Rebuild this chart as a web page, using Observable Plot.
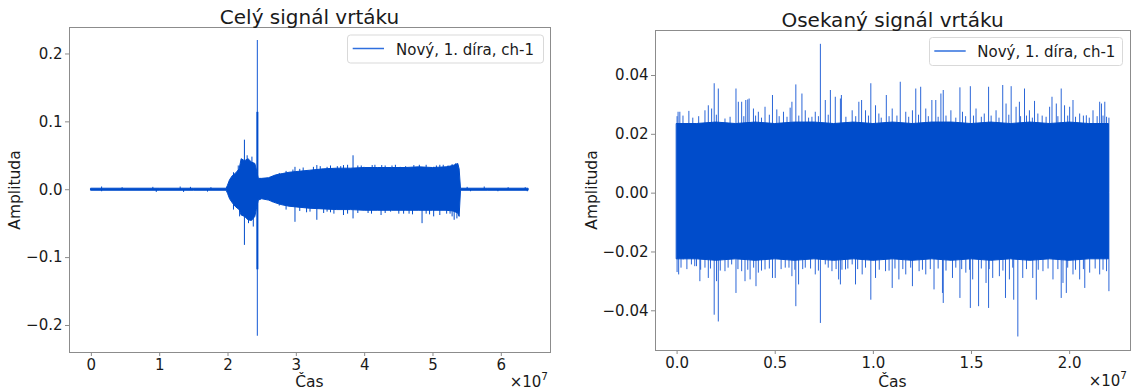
<!DOCTYPE html>
<html><head><meta charset="utf-8">
<script src="https://cdn.jsdelivr.net/npm/d3@7"></script>
<script src="https://cdn.jsdelivr.net/npm/@observablehq/plot@0.6"></script>
<style>
body{margin:0;background:#fff;}
#wrap{position:relative;width:1136px;height:390px;overflow:hidden;font-family:"DejaVu Sans",sans-serif;}
.pl{position:absolute;top:0;}
#ov{position:absolute;left:0;top:0;}
</style></head><body>
<div id="wrap"></div>
<script>
// ---------- data: left panel (whole signal) ----------
const leftT     = [0, 0.5e7, 1.0e7, 1.5e7, 1.98e7, 2.0e7, 2.03e7, 2.07e7, 2.12e7, 2.17e7, 2.2e7, 2.25e7, 2.3e7, 2.35e7, 2.4e7, 2.42e7, 2.45e7, 2.5e7, 2.6e7, 2.7e7, 2.8e7, 2.9e7, 3.0e7, 3.2e7, 3.4e7, 3.6e7, 3.8e7, 4.0e7, 4.2e7, 4.4e7, 4.6e7, 4.8e7, 5.0e7, 5.2e7, 5.3e7, 5.37e7, 5.39e7, 5.41e7, 5.8e7, 6.4e7];
const leftUpper = [0.0015, 0.0015, 0.0015, 0.0015, 0.0015, 0.006, 0.014, 0.02, 0.024, 0.03, 0.045, 0.042, 0.045, 0.04, 0.038, 0.03, 0.016, 0.016, 0.017, 0.021, 0.023, 0.025, 0.026, 0.028, 0.03, 0.031, 0.031, 0.032, 0.032, 0.032, 0.032, 0.033, 0.032, 0.033, 0.035, 0.038, 0.03, 0.0015, 0.0015, 0.0015];
const leftLower = [-0.0015, -0.0015, -0.0015, -0.0015, -0.0015, -0.006, -0.014, -0.02, -0.026, -0.03, -0.038, -0.04, -0.045, -0.046, -0.04, -0.03, -0.016, -0.014, -0.016, -0.02, -0.023, -0.025, -0.026, -0.028, -0.029, -0.03, -0.03, -0.031, -0.031, -0.031, -0.031, -0.031, -0.031, -0.031, -0.032, -0.035, -0.04, -0.0015, -0.0015, -0.0015];
const leftSpikeT = [0.15e7, 0.15e7, 0.45e7, 0.9e7, 0.95e7, 1.3e7, 1.35e7, 1.45e7, 1.7e7, 1.75e7, 5.5e7, 5.55e7, 5.75e7, 5.95e7, 6.1e7, 6.35e7, 6.38e7,
  2.08e7, 2.08e7, 2.15e7, 2.17e7, 2.24e7, 2.24e7, 2.28e7, 2.3e7, 2.35e7, 2.37e7,
  2.98e7, 3.30e7, 3.45e7, 3.69e7, 3.83e7, 3.99e7, 4.11e7, 4.25e7, 4.52e7, 4.72e7, 5.01e7, 5.33e7,
  2.98e7, 3.30e7, 3.45e7, 3.69e7, 3.83e7, 4.24e7, 4.38e7, 4.57e7, 4.84e7, 5.01e7, 5.2e7, 5.31e7,
  3.1e7, 3.6e7, 3.9e7, 4.4e7, 4.9e7, 5.15e7, 3.15e7, 3.55e7, 4.05e7, 4.65e7, 4.95e7, 5.25e7,
  2.65e7, 2.75e7, 2.85e7, 2.95e7, 3.05e7, 3.25e7, 3.35e7, 3.5e7, 3.65e7, 3.75e7, 3.95e7, 4.15e7, 4.3e7, 4.45e7, 4.6e7, 4.8e7, 5.05e7, 5.1e7, 5.22e7, 5.28e7,
  2.65e7, 2.75e7, 2.85e7, 3.05e7, 3.2e7, 3.4e7, 3.5e7, 3.75e7, 3.9e7, 4.1e7, 4.3e7, 4.5e7, 4.7e7, 4.9e7, 5.1e7, 5.28e7, 5.35e7];
const leftSpikeV = [0.004, -0.003, 0.003, 0.0035, -0.004, 0.004, -0.004, 0.0035, -0.0035, 0.003, 0.0035, -0.003, 0.004, -0.003, 0.003, 0.003, -0.003,
  0.025, -0.03, 0.035, -0.04, 0.073, -0.082, 0.05, -0.05, 0.048, -0.055,
  0.033, 0.0356, 0.033, 0.0356, 0.05, 0.033, 0.0356, 0.0356, 0.033, 0.0356, 0.033, 0.038,
  -0.048, -0.045, -0.033, -0.038, -0.043, -0.038, -0.033, -0.036, -0.05, -0.04, -0.036, -0.045,
  0.032, 0.034, 0.035, 0.035, 0.036, 0.036, -0.034, -0.036, -0.035, -0.036, -0.037, -0.036,
  0.019, 0.024, 0.027, 0.029, 0.03, 0.033, 0.034, 0.035, 0.034, 0.036, 0.035, 0.036, 0.035, 0.036, 0.034, 0.036, 0.035, 0.036, 0.035, 0.037,
  -0.019, -0.024, -0.03, -0.032, -0.033, -0.035, -0.034, -0.036, -0.035, -0.036, -0.035, -0.036, -0.037, -0.036, -0.038, -0.04, -0.043];
const peakT = [2.43e7];
const peakLowThin = [-0.216], peakHighThin = [0.22];
const peakLowDark = [-0.118], peakHighDark = [0.114];
const leftXTicks = [0, 1e7, 2e7, 3e7, 4e7, 5e7, 6e7];
const leftYTicks = [-0.2, -0.1, 0, 0.1, 0.2];

// ---------- data: right panel (trimmed signal) ----------
const rightT     = [0, 0.1e7, 0.2e7, 0.3e7, 0.4e7, 0.5e7, 0.6e7, 0.7e7, 0.8e7, 0.9e7, 1.0e7, 1.1e7, 1.2e7, 1.3e7, 1.4e7, 1.5e7, 1.6e7, 1.7e7, 1.8e7, 1.9e7, 2.0e7, 2.1e7, 2.2e7];
const rightUpper = [0.0235, 0.0235, 0.024, 0.0235, 0.024, 0.0235, 0.024, 0.024, 0.0235, 0.024, 0.0235, 0.024, 0.0235, 0.024, 0.024, 0.0235, 0.024, 0.0235, 0.024, 0.0235, 0.024, 0.0235, 0.0235];
const rightLower = [-0.0225, -0.0225, -0.023, -0.0225, -0.023, -0.0225, -0.023, -0.0225, -0.023, -0.0225, -0.023, -0.0225, -0.023, -0.0225, -0.023, -0.0225, -0.023, -0.0225, -0.023, -0.0225, -0.023, -0.0225, -0.0225];
const rightSpikeT = [
  0, 0, 2.2e7, 2.2e7,
  0.189e7, 0.21e7, 0.30e7, 0.35e7, 0.367e7, 0.486e7, 0.605e7, 0.636e7, 0.73e7, 0.781e7, 0.837e7, 0.94e7, 0.987e7, 1.066e7, 1.137e7, 1.216e7, 1.241e7, 1.298e7, 1.356e7, 1.441e7, 1.494e7, 1.587e7, 1.659e7, 1.702e7, 1.77e7, 1.821e7, 1.91e7, 1.957e7, 2.017e7, 2.153e7, 2.179e7,
  0.116e7, 0.189e7, 0.21e7, 0.30e7, 0.402e7, 0.486e7, 0.605e7, 0.73e7, 0.832e7, 0.909e7, 0.987e7, 1.096e7, 1.199e7, 1.309e7, 1.356e7, 1.441e7, 1.494e7, 1.536e7, 1.587e7, 1.673e7, 1.715e7, 1.736e7, 1.83e7, 1.957e7, 1.983e7, 2.077e7,
  0.005e7, 0.014e7, 0.06e7, 0.142e7, 0.159e7, 0.176e7, 0.244e7, 0.312e7, 0.329e7, 0.36e7, 0.389e7, 0.414e7, 0.448e7, 0.508e7, 0.542e7, 0.576e7, 0.585e7, 0.653e7, 0.687e7, 0.704e7, 0.755e7, 0.806e7, 0.832e7, 0.892e7, 0.926e7, 0.96e7, 1.011e7, 1.028e7, 1.096e7, 1.165e7, 1.199e7, 1.267e7, 1.318e7, 1.344e7, 1.395e7, 1.454e7, 1.523e7, 1.565e7, 1.625e7, 1.676e7, 1.727e7, 1.744e7, 1.795e7, 1.838e7, 1.898e7, 1.932e7, 1.974e7, 2.0e7, 2.051e7, 2.085e7, 2.119e7, 2.162e7, 2.188e7,
  0.008e7, 0.031e7, 0.073e7, 0.099e7, 0.142e7, 0.159e7, 0.201e7, 0.244e7, 0.278e7, 0.329e7, 0.346e7, 0.372e7, 0.414e7, 0.448e7, 0.5e7, 0.551e7, 0.585e7, 0.619e7, 0.653e7, 0.704e7, 0.755e7, 0.789e7, 0.823e7, 0.858e7, 0.892e7, 0.943e7, 1.011e7, 1.062e7, 1.13e7, 1.165e7, 1.233e7, 1.267e7, 1.352e7, 1.403e7, 1.471e7, 1.506e7, 1.574e7, 1.608e7, 1.642e7, 1.693e7, 1.761e7, 1.812e7, 1.864e7, 1.915e7, 1.966e7, 2.017e7, 2.051e7, 2.102e7, 2.153e7, 2.188e7,
  0.03e7, 0.08e7, 0.11e7, 0.2e7, 0.27e7, 0.34e7, 0.40e7, 0.43e7, 0.47e7, 0.52e7, 0.56e7, 0.62e7, 0.67e7, 0.72e7, 0.77e7, 0.86e7, 0.91e7, 0.975e7, 1.04e7, 1.08e7, 1.12e7, 1.18e7, 1.23e7, 1.28e7, 1.33e7, 1.37e7, 1.42e7, 1.47e7, 1.51e7, 1.55e7, 1.6e7, 1.64e7, 1.69e7, 1.75e7, 1.78e7, 1.81e7, 1.86e7, 1.88e7, 1.94e7, 1.99e7, 2.03e7, 2.07e7, 2.1e7, 2.14e7, 2.17e7,
  0.02e7, 0.05e7, 0.09e7, 0.12e7, 0.17e7, 0.22e7, 0.26e7, 0.31e7, 0.36e7, 0.39e7, 0.43e7, 0.47e7, 0.53e7, 0.57e7, 0.6e7, 0.64e7, 0.68e7, 0.72e7, 0.77e7, 0.81e7, 0.84e7, 0.87e7, 0.92e7, 0.96e7, 1.03e7, 1.08e7, 1.11e7, 1.15e7, 1.19e7, 1.25e7, 1.29e7, 1.33e7, 1.37e7, 1.42e7, 1.45e7, 1.49e7, 1.55e7, 1.59e7, 1.66e7, 1.71e7, 1.78e7, 1.84e7, 1.89e7, 1.94e7, 1.99e7, 2.03e7, 2.07e7, 2.13e7, 2.17e7];
const rightSpikeV = [
  0.026, -0.027, 0.0255, -0.0335,
  0.0372, 0.0354, 0.0354, 0.0315, 0.032, 0.0332, 0.0368, 0.0337, 0.0506, 0.0349, 0.0332, 0.0315, 0.0372, 0.0332, 0.0377, 0.0354, 0.036, 0.0315, 0.0349, 0.0358, 0.0362, 0.036, 0.0366, 0.0362, 0.0354, 0.0312, 0.0326, 0.0354, 0.0315, 0.0309, 0.0309,
  -0.0301, -0.0415, -0.0438, -0.0341, -0.0318, -0.029, -0.0386, -0.0443, -0.0312, -0.0312, -0.0364, -0.0324, -0.0318, -0.0329, -0.0375, -0.0358, -0.0392, -0.0386, -0.0392, -0.0358, -0.0364, -0.0489, -0.0364, -0.0358, -0.0341, -0.0324,
  0.0275, 0.0275, 0.0278, 0.028, 0.0297, 0.0286, 0.0252, 0.0309, 0.0309, 0.0317, 0.0286, 0.0275, 0.0292, 0.0283, 0.0275, 0.0289, 0.0309, 0.028, 0.0258, 0.0275, 0.0315, 0.0326, 0.032, 0.028, 0.0309, 0.028, 0.0297, 0.0269, 0.0286, 0.0275, 0.028, 0.0286, 0.0315, 0.0337, 0.028, 0.0275, 0.0286, 0.0269, 0.028, 0.0303, 0.0292, 0.0309, 0.028, 0.0269, 0.0292, 0.0303, 0.0297, 0.0292, 0.0269, 0.0263, 0.028, 0.0303, 0.0258,
  -0.0278, -0.0227, -0.0244, -0.025, -0.0255, -0.029, -0.0301, -0.0267, -0.0244, -0.0267, -0.0301, -0.0295, -0.0272, -0.0261, -0.029, -0.0255, -0.0284, -0.0312, -0.0255, -0.0278, -0.0244, -0.0267, -0.0295, -0.0261, -0.0244, -0.0278, -0.029, -0.0267, -0.0295, -0.0278, -0.0267, -0.0278, -0.0341, -0.029, -0.0272, -0.0295, -0.0307, -0.029, -0.0284, -0.0295, -0.029, -0.029, -0.0267, -0.0295, -0.0307, -0.0278, -0.0295, -0.0272, -0.0278, -0.0267,
  0.0262, 0.0255, 0.026, 0.0265, 0.0258, 0.026, 0.0262, 0.0255, 0.0265, 0.026, 0.0258, 0.0262, 0.0255, 0.026, 0.0265, 0.0258, 0.026, 0.0262, 0.0255, 0.026, 0.0262, 0.0258, 0.0265, 0.026, 0.0258, 0.0262, 0.0255, 0.026, 0.0262, 0.0258, 0.0262, 0.0255, 0.0265, 0.026, 0.0262, 0.0255, 0.0262, 0.0258, 0.026, 0.0262, 0.0258, 0.0262, 0.0255, 0.026, 0.0262,
  -0.0255, -0.026, -0.025, -0.0262, -0.0258, -0.0265, -0.0255, -0.026, -0.0262, -0.0255, -0.0265, -0.0258, -0.026, -0.0255, -0.0262, -0.026, -0.0258, -0.0265, -0.0255, -0.026, -0.0262, -0.0258, -0.026, -0.0255, -0.0262, -0.0265, -0.0258, -0.026, -0.0255, -0.0262, -0.026, -0.0258, -0.0265, -0.0255, -0.026, -0.0262, -0.0258, -0.026, -0.0265, -0.0255, -0.026, -0.0262, -0.0258, -0.026, -0.0255, -0.0262, -0.026, -0.0258, -0.0262];
const rightXTicks = [0, 0.5e7, 1.0e7, 1.5e7, 2.0e7];
const rightYTicks = [-0.04, -0.02, 0, 0.02, 0.04];

// ---------- drawing ----------
const BLUE = "#004ccb", THIN = "#2b66d8", SPINE = "#8c8c8c", INK = "#1a1a1a";
const minus = (d, n) => (d < 0 ? "\u2212" : "") + Math.abs(d).toFixed(n);
const baseStyle = {fontFamily: "DejaVu Sans", fontSize: "15px", color: INK, background: "transparent", overflow: "visible"};

const leftEnv = leftT.map((t, i) => ({t, hi: leftUpper[i], lo: leftLower[i]}));
const leftSp = leftSpikeT.map((t, i) => ({t, v: leftSpikeV[i]}));
const peaks = peakT.map((t, i) => ({t, lt: peakLowThin[i], ht: peakHighThin[i], ld: peakLowDark[i], hd: peakHighDark[i]}));
const rightEnv = rightT.map((t, i) => ({t, hi: rightUpper[i], lo: rightLower[i]}));
const rightSp = rightSpikeT.map((t, i) => ({t, v: rightSpikeV[i]}));

const left = Plot.plot({
  width: 570, height: 390, marginLeft: 69, marginRight: 20, marginTop: 27, marginBottom: 38,
  x: {domain: [-0.32e7, 6.72e7]}, y: {domain: [-0.2398, 0.239]},
  style: baseStyle,
  marks: [
    Plot.ruleX(peaks, {x: "t", y1: "lt", y2: "ht", stroke: "#3a74dc", strokeWidth: 1.2}),
    Plot.ruleX(peaks, {x: "t", y1: "ld", y2: "hd", stroke: BLUE, strokeWidth: 2}),
    Plot.ruleX(leftSp, {x: "t", y1: 0, y2: "v", stroke: BLUE, strokeWidth: 1}),
    Plot.areaY(leftEnv, {x: "t", y1: "lo", y2: "hi", fill: BLUE, stroke: BLUE, strokeWidth: 1}),
    Plot.frame({stroke: SPINE}),
    Plot.axisX({ticks: leftXTicks, tickFormat: d => String(d / 1e7), tickSize: 4, tickPadding: 3, stroke: SPINE, fill: INK, label: null}),
    Plot.axisY({ticks: leftYTicks, tickFormat: d => minus(d, 1), tickSize: 4, tickPadding: 3, stroke: SPINE, fill: INK, label: null})
  ]
});
const right = Plot.plot({
  width: 566, height: 390, marginLeft: 85, marginRight: 6, marginTop: 30, marginBottom: 40,
  x: {domain: [-0.11e7, 2.31e7]}, y: {domain: [-0.0535, 0.0553]},
  style: baseStyle,
  marks: [
    Plot.ruleX(rightSp, {x: "t", y1: 0, y2: "v", stroke: THIN, strokeWidth: 1}),
    Plot.areaY(rightEnv, {x: "t", y1: "lo", y2: "hi", fill: BLUE, stroke: BLUE, strokeWidth: 1}),
    Plot.frame({stroke: SPINE}),
    Plot.axisX({ticks: rightXTicks, tickFormat: d => (d / 1e7).toFixed(1), tickSize: 4, tickPadding: 3, stroke: SPINE, fill: INK, label: null}),
    Plot.axisY({ticks: rightYTicks, tickFormat: d => minus(d, 2), tickSize: 4, tickPadding: 3, stroke: SPINE, fill: INK, label: null})
  ]
});
const wrap = document.getElementById("wrap");
const d1 = document.createElement("div"); d1.className = "pl"; d1.style.left = "0px"; d1.appendChild(left);
const d2 = document.createElement("div"); d2.className = "pl"; d2.style.left = "570px"; d2.appendChild(right);
wrap.appendChild(d1); wrap.appendChild(d2);

// ---------- text overlay ----------
const ov = `
<svg id="ov" width="1136" height="390" font-family="DejaVu Sans" fill="${INK}">
  <text x="309.5" y="24" font-size="20" text-anchor="middle">Celý signál vrtáku</text>
  <text x="892.5" y="27" font-size="20" text-anchor="middle">Osekaný signál vrtáku</text>
  <text x="309.5" y="387" font-size="15.5" text-anchor="middle">Čas</text>
  <text x="892.5" y="387" font-size="15.5" text-anchor="middle">Čas</text>
  <text transform="translate(20,190) rotate(-90)" font-size="15.5" text-anchor="middle">Amplituda</text>
  <text transform="translate(597,190) rotate(-90)" font-size="15.5" text-anchor="middle">Amplituda</text>
  <text x="548" y="387" font-size="15" text-anchor="end">×10<tspan font-size="10.5" dy="-7">7</tspan></text>
  <text x="1127" y="386" font-size="15" text-anchor="end">×10<tspan font-size="10.5" dy="-7">7</tspan></text>
  <rect x="347.5" y="35" width="196" height="28" rx="3" fill="white" fill-opacity="0.85" stroke="#d9d9d9"/>
  <line x1="352.7" x2="384" y1="48.5" y2="48.5" stroke="#2f6fde" stroke-width="1.5"/>
  <text x="396" y="54.5" font-size="15">Nový, 1. díra, ch-1</text>
  <rect x="929.5" y="37.5" width="193" height="28" rx="3" fill="white" fill-opacity="0.85" stroke="#d9d9d9"/>
  <line x1="934.3" x2="965.7" y1="51" y2="51" stroke="#2f6fde" stroke-width="1.5"/>
  <text x="977.3" y="57" font-size="15">Nový, 1. díra, ch-1</text>
</svg>`;
wrap.insertAdjacentHTML("beforeend", ov);
</script>
</body></html>
